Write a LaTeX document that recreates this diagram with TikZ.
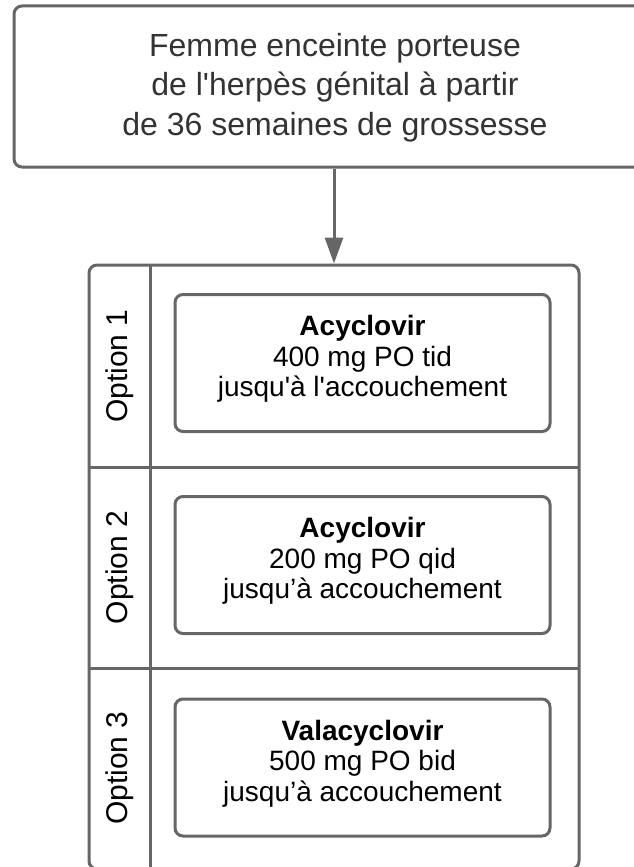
\documentclass[tikz,border=0pt]{standalone}
\usepackage{fontspec}
\setmainfont{Liberation Sans}
\newfontfamily\plainlib{Liberation Sans}
\usetikzlibrary{arrows.meta}
\definecolor{linegray}{HTML}{666666}
\definecolor{topText}{HTML}{333333}
\begin{document}
\begin{tikzpicture}[x=1pt,y=-1pt,
  boxline/.style={draw=linegray,line width=3pt,rounded corners=8pt},
  topbox/.style={boxline,minimum width=642pt,minimum height=161pt,inner sep=0pt},
  toptext/.style={inner sep=0pt,align=center,text=topText,font=\plainlib\fontsize{32}{39.5}\selectfont},
  drugbox/.style={boxline,minimum width=375pt,minimum height=137pt,inner sep=0pt},
  drugtext/.style={inner sep=0pt,align=center,font=\plainlib\fontsize{28}{30.5}\selectfont},
  optlabel/.style={rotate=90,inner sep=0pt,font=\plainlib\fontsize{30}{32}\selectfont},
  divider/.style={draw=linegray,line width=3pt},
  arrowline/.style={draw=linegray,line width=3pt,-{Triangle[length=26pt,width=18pt]}}
]
\useasboundingbox (0,0) rectangle (634,867);
\clip (0,0) rectangle (634,867);
\node[topbox] (top) at (335,86.5) {};
\node[toptext] (topt) at ([yshift=-1pt]top.center) {Femme enceinte porteuse\\de l'herpès génital à partir\\de 36 semaines de grossesse};
\node[boxline,minimum width=490pt,minimum height=604pt,inner sep=0pt] (cont) at (334,567) {};
\coordinate (colT) at (150,265);
\coordinate (colB) at (150,869);
\coordinate (d1L) at (89,467);
\coordinate (d1R) at (579,467);
\coordinate (d2L) at (89,668);
\coordinate (d2R) at (579,668);
\draw[divider] (colT) -- (colB);
\draw[divider] (d1L) -- (d1R);
\draw[divider] (d2L) -- (d2R);
\draw[arrowline] (top.south -| cont.north) -- (cont.north);
\node[optlabel] (o1) at (119.5,366) {Option 1};
\node[optlabel] (o2) at (119.5,567.5) {Option 2};
\node[optlabel] (o3) at (119.5,768) {Option 3};
\node[drugbox] (b1) at (362.5,363) {};
\node[drugbox] (b2) at (362.5,565) {};
\node[drugbox] (b3) at (362.5,767.5) {};
\node[drugtext] (t1) at ([yshift=4pt]b1.center) {\textbf{Acyclovir}\\400 mg PO tid\\jusqu'à l'accouchement};
\node[drugtext] (t2) at ([yshift=4pt]b2.center) {\textbf{Acyclovir}\\200 mg PO qid\\jusqu’à accouchement};
\node[drugtext] (t3) at ([yshift=4pt]b3.center) {\textbf{Valacyclovir}\\500 mg PO bid\\jusqu’à accouchement};
\end{tikzpicture}
\end{document}
